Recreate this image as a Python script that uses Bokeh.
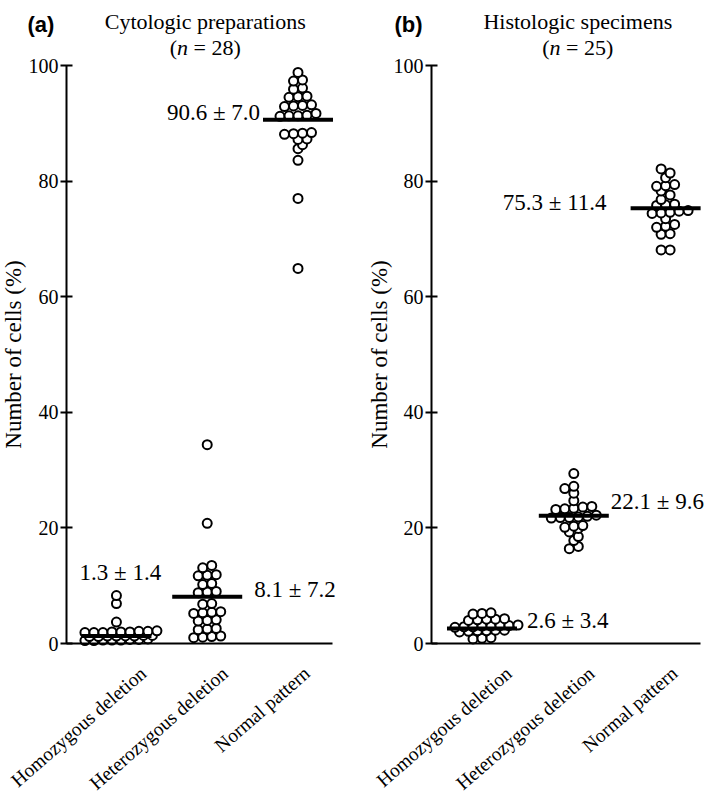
import math
from bokeh.plotting import figure
from bokeh.models import ColumnDataSource, Range1d, FixedTicker, Label
from bokeh.layouts import row
from bokeh.embed import file_html
from bokeh.resources import INLINE

# ---------------- data ----------------
categories = ["Homozygous deletion", "Heterozygous deletion", "Normal pattern"]
y_ticks = [0, 20, 40, 60, 80, 100]

cyto_homozygous = [0.5, 0.5, 0.6, 0.6, 0.6, 0.7, 0.7, 0.8,
                   1.2, 1.2, 1.3, 1.3, 1.3, 1.3, 1.4, 1.4,
                   1.9, 1.9, 1.9, 2.0, 2.0, 2.0, 2.1, 2.1, 2.2,
                   3.7, 6.9, 8.3]
cyto_heterozygous = [1.0, 1.1, 1.2, 1.3, 2.4, 2.5, 2.6, 3.9, 4.0, 4.1,
                     5.2, 5.3, 5.4, 5.5, 6.8, 6.9, 8.8, 8.9, 9.0,
                     10.2, 10.4, 11.7, 11.8, 11.9, 13.1, 13.5, 20.8, 34.4]
cyto_normal = [64.9, 77.0, 83.6, 85.6, 86.3, 87.2, 87.3, 88.1, 88.2, 88.3, 88.4,
               91.2, 91.3, 91.3, 91.4, 91.7, 92.9, 93.0, 93.1, 93.2,
               94.5, 94.6, 94.7, 95.9, 96.1, 97.3, 97.5, 98.8]
cyto_mean = [1.3, 8.1, 90.6]
cyto_sd = [1.4, 7.2, 7.0]

histo_homozygous = [0.8, 0.9, 1.0, 2.0, 2.1, 2.2, 2.2, 2.3, 2.3,
                    2.8, 2.9, 2.9, 3.0, 3.0, 3.1, 3.1, 3.2,
                    4.0, 4.1, 4.2, 4.2, 4.3, 5.1, 5.2, 5.3]
histo_heterozygous = [16.4, 16.8, 17.8, 18.5, 19.3, 19.9, 20.1, 20.3, 20.4,
                      21.7, 21.8, 21.8, 21.9, 22.0, 22.2, 23.2, 23.3, 23.4, 23.6, 23.7,
                      24.7, 26.0, 26.8, 27.2, 29.4]
histo_normal = [68.1, 68.1, 70.8, 70.9, 72.0, 72.2, 72.5, 73.5, 74.4, 74.5, 74.6, 74.8, 74.9,
                75.8, 75.9, 76.0, 76.8, 77.6, 78.3, 79.1, 79.2, 79.4, 80.6, 81.4, 82.1]
histo_mean = [2.6, 22.1, 75.3]
histo_sd = [3.4, 9.6, 11.4]

# ---------------- layout / style ----------------
SERIF = "Liberation Serif"
SANS = "Liberation Sans"
X0, X1 = 0.45, 3.38          # extent of the drawn x axis (category 1..3)
H = 795
AXIS_TOP, AXIS_BOTTOM = 65, 643   # pixel rows of y=100 and y=0
DOT_STEP = 9.0
ROW_TOL = 0.6
MIN_DIST = 6.5
BAR_HALF = 35
CAT_ANGLE = math.radians(41)


def swarm(values, center, px_x, px_y):
    vals = sorted(values)
    rows = []
    for v in vals:
        if rows and v - rows[-1][0] <= ROW_TOL + 1e-9:
            rows[-1].append(v)
        else:
            rows.append([v])
    placed = []
    for r in rows:
        k = len(r)
        base = [(j - (k - 1) / 2) * DOT_STEP for j in range(k)]
        best, best_d = 0.0, -1.0
        for step in [0, 0.5, -0.5]:
            s = step * DOT_STEP
            md = 1e9
            for b, v in zip(base, r):
                for (qx, qy) in placed:
                    md = min(md, math.hypot(b + s - qx, (v - qy) * px_y))
            if md >= MIN_DIST:
                best = s
                break
            if md > best_d + 0.5:
                best_d, best = md, s
        for b, v in zip(base, r):
            placed.append((b + best, v))
    xs = [center + px / px_x for px, _ in placed]
    ys = [v for _, v in placed]
    return xs, ys


def lab(p, x, y, text, dx=0, dy=0, size="22px", font=SERIF, style="normal",
        align="left", baseline="alphabetic", angle=0.0):
    p.add_layout(Label(x=x, y=y, x_offset=dx, y_offset=dy, text=text, angle=angle,
                       text_font=font, text_font_style=style, text_font_size=size,
                       text_align=align, text_baseline=baseline, text_color="black"))


def panel(groups, means, sds, fig_w, axis_left, axis_w, tag, tag_dx, title, n_text,
          note_style, title_dx, ylab_dx):
    px_x = axis_w / (X1 - X0)
    px_y = (AXIS_BOTTOM - AXIS_TOP) / 100.0
    xr = Range1d(X0 - axis_left / px_x, X0 + (fig_w - axis_left) / px_x)
    yr = Range1d(-(H - AXIS_BOTTOM) / px_y, 100 + AXIS_TOP / px_y)
    p = figure(width=fig_w, height=H, x_range=xr, y_range=yr,
               output_backend="svg", toolbar_location=None,
               min_border=0, min_border_left=0, min_border_right=0,
               min_border_top=0, min_border_bottom=0)
    p.outline_line_color = None
    p.xgrid.visible = False
    p.ygrid.visible = False
    p.background_fill_color = "white"
    p.border_fill_color = "white"

    # axes drawn at fixed data locations, limited by bounds
    xa = p.xaxis[0]
    xa.fixed_location = 0
    xa.bounds = (X0, X1)
    xa.ticker = FixedTicker(ticks=[])
    xa.major_label_text_font_size = "0px"
    xa.axis_line_width = 2
    xa.axis_line_color = "black"
    xa.major_tick_line_color = None
    xa.minor_tick_line_color = None

    ya = p.yaxis[0]
    ya.fixed_location = X0
    ya.bounds = (0, 100)
    ya.ticker = FixedTicker(ticks=y_ticks)
    ya.axis_line_width = 2
    ya.axis_line_color = "black"
    ya.major_tick_line_width = 2
    ya.major_tick_line_color = "black"
    ya.major_tick_in = 6
    ya.major_tick_out = 6
    ya.minor_tick_line_color = None
    ya.major_label_standoff = 2
    ya.major_label_text_font = SERIF
    ya.major_label_text_font_size = "20px"
    ya.major_label_text_color = "black"

    # points
    xs_all, ys_all = [], []
    for i, vals in enumerate(groups):
        xs, ys = swarm(vals, i + 1, px_x, px_y)
        xs_all += xs
        ys_all += ys
    pts = ColumnDataSource(dict(x=xs_all, y=ys_all))
    p.scatter("x", "y", source=pts, marker="circle", size=9,
              fill_color="white", line_color="black", line_width=2)

    # mean bars
    half = BAR_HALF / px_x
    bars = ColumnDataSource(dict(
        x0=[i + 1 - half for i in range(len(means))],
        x1=[i + 1 + half for i in range(len(means))],
        y=means))
    p.segment(x0="x0", y0="y", x1="x1", y1="y", source=bars,
              line_color="black", line_width=4, line_cap="butt")

    # mean +- sd annotations
    for i, (m, s) in enumerate(zip(means, sds)):
        align, dx, dy = note_style[i]
        lab(p, i + 1, m, f"{m:.1f} \u00b1 {s:.1f}", dx=dx, dy=dy, size="23px",
            align=align, baseline="middle")

    # category labels (rotated)
    for i, c in enumerate(categories):
        lab(p, i + 1, 0, c, dx=27 - 9 * i, dy=-27, size="19.5px",
            align="right", baseline="middle", angle=CAT_ANGLE)

    # y axis title
    lab(p, X0, 50, "Number of cells (%)", dx=ylab_dx, size="23px",
        align="center", baseline="middle", angle=math.pi / 2)

    # panel tag
    lab(p, X0, 100, tag, dx=tag_dx, dy=41, size="22px", font=SANS, style="bold")

    # titles
    lab(p, 2, 100, title, dx=title_dx, dy=44, size="22px", align="center")
    fs = 22
    start = title_dx - (0.333 + 0.5 + 0.25 + 0.564 + 0.25 + 0.5 + 0.5 + 0.333) * fs / 2
    lab(p, 2, 100, "(", dx=start, dy=18)
    lab(p, 2, 100, "n", dx=start + 0.333 * fs, dy=18, style="italic")
    lab(p, 2, 100, n_text, dx=start + (0.333 + 0.5 + 0.25) * fs, dy=18)
    return p


cyto_note = [("center", 4, 63), ("left", 47, 7), ("right", -38, 7)]
histo_note = [("left", 45, 8), ("left", 37, 14), ("right", -59, 6)]

pa = panel([cyto_homozygous, cyto_heterozygous, cyto_normal], cyto_mean, cyto_sd,
           362, 66, 266, "(a)", -39, "Cytologic preparations", "= 28)", cyto_note, -2, -53)
pb = panel([histo_homozygous, histo_heterozygous, histo_normal], histo_mean, histo_sd,
           347, 69, 269, "(b)", -37, "Histologic specimens", "= 25)", histo_note, 4, -52)

layout = row(pa, pb)
open("out.html", "w").write(file_html(layout, INLINE))
